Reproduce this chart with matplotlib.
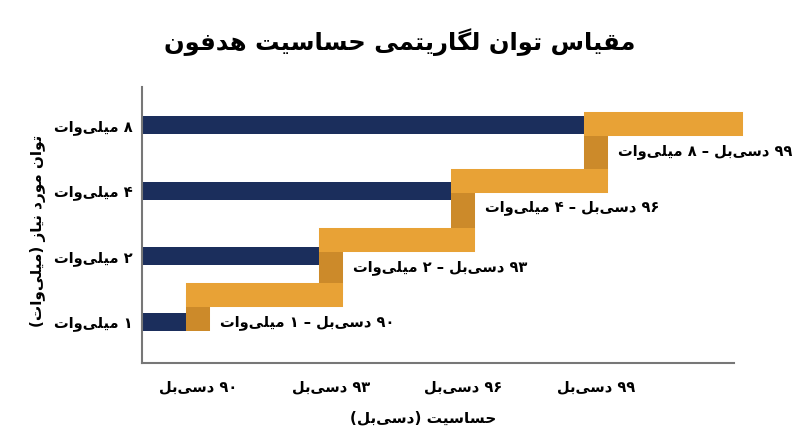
import re
import matplotlib.pyplot as plt

# داده‌ها
power_mw = [1, 2, 4, 8]
sensitivity_db = [90, 93, 96, 99]
step_levels = [0.41, 1.25, 2.15, 3.01]   # سطح پله‌های نارنجی (واحد ردیف)
step_end_db = 102.07
x_ticks = [90, 93, 96, 99]
x_labels = ['۹۰ دسی‌بل', '۹۳ دسی‌بل', '۹۶ دسی‌بل', '۹۹ دسی‌بل']
y_labels = ['۱ میلی‌وات', '۲ میلی‌وات', '۴ میلی‌وات', '۸ میلی‌وات']
point_labels = ['۹۰ دسی‌بل – ۱ میلی‌وات', '۹۳ دسی‌بل – ۲ میلی‌وات',
                '۹۶ دسی‌بل – ۴ میلی‌وات', '۹۹ دسی‌بل – ۸ میلی‌وات']
title = 'مقیاس توان لگاریتمی حساسیت هدفون'
xlabel = 'حساسیت (دسی‌بل)'
ylabel = 'توان مورد نیاز (میلی‌وات)'

NAVY = '#1b2e5c'
ORANGE = '#e8a236'
DARK = '#cc8a2a'

# شکل‌دهی حروف فارسی (جدا، پایانی، آغازی، میانی)
FORMS = {
    'ا': ('\uFE8D', '\uFE8E', None, None),
    'ب': ('\uFE8F', '\uFE90', '\uFE91', '\uFE92'),
    'ت': ('\uFE95', '\uFE96', '\uFE97', '\uFE98'),
    'ح': ('\uFEA1', '\uFEA2', '\uFEA3', '\uFEA4'),
    'د': ('\uFEA9', '\uFEAA', None, None),
    'ر': ('\uFEAD', '\uFEAE', None, None),
    'ز': ('\uFEAF', '\uFEB0', None, None),
    'س': ('\uFEB1', '\uFEB2', '\uFEB3', '\uFEB4'),
    'ف': ('\uFED1', '\uFED2', '\uFED3', '\uFED4'),
    'ق': ('\uFED5', '\uFED6', '\uFED7', '\uFED8'),
    'گ': ('\uFB92', '\uFB93', '\uFB94', '\uFB95'),
    'ل': ('\uFEDD', '\uFEDE', '\uFEDF', '\uFEE0'),
    'م': ('\uFEE1', '\uFEE2', '\uFEE3', '\uFEE4'),
    'ن': ('\uFEE5', '\uFEE6', '\uFEE7', '\uFEE8'),
    'ه': ('\uFEE9', '\uFEEA', '\uFEEB', '\uFEEC'),
    'و': ('\uFEED', '\uFEEE', None, None),
    'ی': ('\uFBFC', '\uFBFD', '\uFBFE', '\uFBFF'),
}


def fa(text):
    out = []
    for i, c in enumerate(text):
        if c not in FORMS:
            out.append(c)
            continue
        prev = text[i - 1] if i > 0 else None
        nxt = text[i + 1] if i + 1 < len(text) else None
        jp = prev in FORMS and FORMS[prev][2] is not None
        jn = nxt in FORMS and FORMS[c][2] is not None
        iso, fin, ini, med = FORMS[c]
        if jp and jn:
            out.append(med)
        elif jp:
            out.append(fin)
        elif jn:
            out.append(ini)
        else:
            out.append(iso)
    s = ''.join(ch for ch in out if ch != '\u200c')[::-1]
    s = re.sub(r'[\u06F0-\u06F90-9]+', lambda m: m.group(0)[::-1], s)
    return s.translate(str.maketrans('()', ')('))


plt.rcParams['font.family'] = ['DejaVu Sans']

fig = plt.figure(figsize=(8, 4.47), dpi=100)
ax = fig.add_axes([0.1775, 0.188, 0.74, 0.617])
x0, x1 = 88.73, 102.13
ax.set_xlim(x0, x1)
ax.set_ylim(-0.624, 3.578)

rows = list(range(len(power_mw)))
bar_h = 0.274
ax.barh(rows, [s - x0 for s in sensitivity_db], left=x0, height=bar_h,
        color=NAVY, zorder=2)

# پله‌های نارنجی
lw = 17.3
prev = rows[0] - bar_h / 2
for i, (s, lev) in enumerate(zip(sensitivity_db, step_levels)):
    ax.plot([s, s], [prev, lev], color=DARK, lw=lw, solid_capstyle='butt',
            zorder=3, clip_on=False)
    nxt = sensitivity_db[i + 1] if i + 1 < len(sensitivity_db) else step_end_db
    ax.plot([s, nxt], [lev, lev], color=ORANGE, lw=lw,
            solid_capstyle='projecting', zorder=4, clip_on=False)
    prev = lev

for s, lev, lab in zip(sensitivity_db, step_levels, point_labels):
    ax.annotate(fa(lab), xy=(s, lev), xytext=(16, -19.5), textcoords='offset points',
                ha='left', va='center', fontsize=10.5, fontweight='bold', zorder=5)

ax.set_yticks(rows)
ax.set_yticklabels([fa(t) for t in y_labels], fontsize=10.5, fontweight='bold')
ax.set_xticks(x_ticks)
ax.set_xticklabels([fa(t) for t in x_labels], fontsize=10.5, fontweight='bold')
ax.tick_params(axis='both', length=0)
ax.tick_params(axis='y', pad=7)
ax.tick_params(axis='x', pad=12)

for side in ['top', 'right']:
    ax.spines[side].set_visible(False)
for side in ['left', 'bottom']:
    ax.spines[side].set_color('#777777')
    ax.spines[side].set_linewidth(1.5)

fig.text(0.5, 1 - 42 / 447, fa(title), ha='center', va='center',
         fontsize=17.5, fontweight='bold')
fig.text(0.5285, 1 - 418 / 447, fa(xlabel), ha='center', va='center',
         fontsize=11, fontweight='bold')
fig.text(38 / 800, 1 - 231 / 447, fa(ylabel), ha='center', va='center',
         rotation=90, fontsize=11, fontweight='bold')

fig.savefig('out.png', dpi=100)
